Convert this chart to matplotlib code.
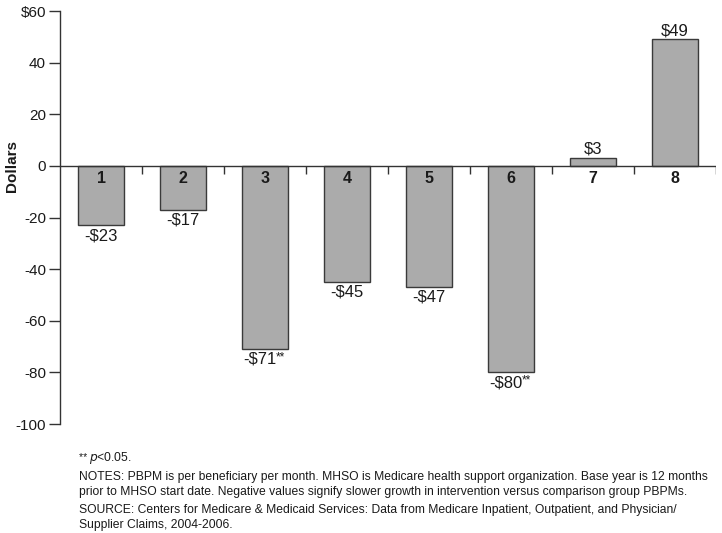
import matplotlib
matplotlib.use("Agg")
import matplotlib.pyplot as plt
import numpy as np

plt.rcParams['font.family'] = ['Liberation Sans', 'DejaVu Sans']

categories = ["1", "2", "3", "4", "5", "6", "7", "8"]
values = [-23, -17, -71, -45, -47, -80, 3, 49]
labels = ["-$23", "-$17", "-$71", "-$45", "-$47", "-$80", "$3", "$49"]
significant = [False, False, True, False, False, True, False, False]
yticks = [60, 40, 20, 0, -20, -40, -60, -80, -100]
ytick_labels = ["$60", "40", "20", "0", "-20", "-40", "-60", "-80", "-100"]

txt = "#1a1a1a"
fig = plt.figure(figsize=(7.22, 5.33), dpi=100)
ax = fig.add_axes([60/722, 1-424/533, 656/722, 413/533])

x = np.arange(len(categories))
ax.bar(x, values, width=0.56, color="#ababab", edgecolor="#3a3a3a", linewidth=1.0, zorder=2)
ax.set_xlim(-0.5, len(categories) - 0.5)
ax.set_ylim(-100, 60)

for s in ["top", "right", "bottom"]:
    ax.spines[s].set_visible(False)
ax.spines["left"].set_color("#333333")
ax.spines["left"].set_linewidth(1.0)
ax.axhline(0, color="#333333", linewidth=1.0, zorder=3)
ax.vlines(np.arange(1, len(categories) + 1) - 0.5, -3.3, 0, color="#333333", linewidth=1.0, zorder=1)

ax.set_xticks([])
ax.set_yticks(yticks)
ax.set_yticklabels(ytick_labels)
ax.tick_params(axis="y", length=8, width=1.0, color="#333333", pad=2, labelsize=11, labelcolor=txt)

ax.set_ylabel("Dollars", fontsize=11, fontweight="bold", color=txt, va="center")
ax.yaxis.set_label_coords(-48/656, 0.625)

for xi, c in zip(x, categories):
    ax.annotate(c, xy=(xi, 0), xytext=(0, -4), textcoords="offset points",
                ha="center", va="top", fontsize=11.5, fontweight="bold", color=txt, zorder=4)

for xi, v, lab, sig in zip(x, values, labels, significant):
    if v < 0:
        t = ax.annotate(lab, xy=(xi, v), xytext=(-4 if sig else 0, -2), textcoords="offset points",
                        ha="center", va="top", fontsize=12, color=txt)
    else:
        t = ax.annotate(lab, xy=(xi, v), xytext=(0, 1), textcoords="offset points",
                        ha="center", va="bottom", fontsize=12, color=txt)
    if sig:
        ax.annotate("**", xy=(1, 0.62), xycoords=t, ha="left", va="center", fontsize=8.5, color=txt)

fs = 8.78
fig.text(79/722, 1-458/533, "** ", fontsize=7.5, color=txt, va="center", ha="left")
fig.text(89/722, 1-458/533, "$p$<0.05.", fontsize=fs, color=txt, va="center", ha="left")
fig.text(79/722, 1-477/533,
         "NOTES: PBPM is per beneficiary per month. MHSO is Medicare health support organization. Base year is 12 months",
         fontsize=fs, color=txt, va="center", ha="left")
fig.text(79/722, 1-492/533,
         "prior to MHSO start date. Negative values signify slower growth in intervention versus comparison group PBPMs.",
         fontsize=fs, color=txt, va="center", ha="left")
fig.text(79/722, 1-510/533,
         "SOURCE: Centers for Medicare & Medicaid Services: Data from Medicare Inpatient, Outpatient, and Physician/",
         fontsize=fs, color=txt, va="center", ha="left")
fig.text(79/722, 1-525/533, "Supplier Claims, 2004-2006.",
         fontsize=fs, color=txt, va="center", ha="left")

fig.savefig("out.png", dpi=100)
